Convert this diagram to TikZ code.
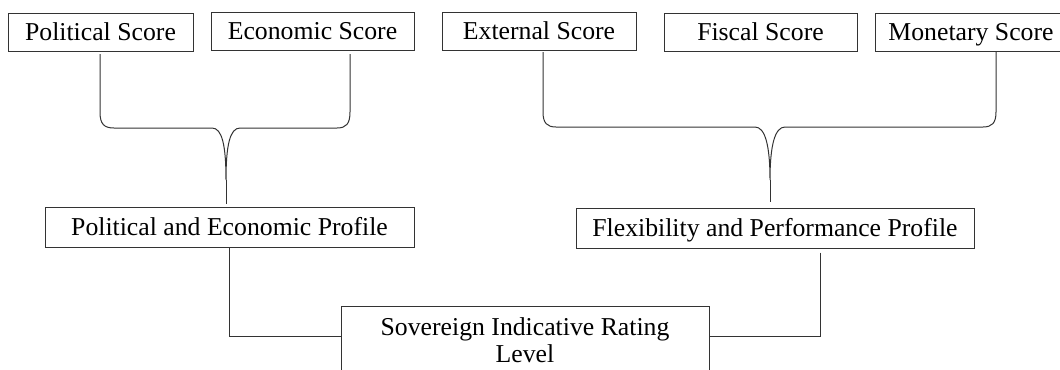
\documentclass[tikz,border=0pt]{standalone}
\usepackage{fontspec}
\setmainfont{Liberation Serif}
\begin{document}
\begin{tikzpicture}[x=0.75pt,y=-0.75pt,
  box/.style={draw=black!80, line width=0.75pt, inner sep=0pt, align=center,
    font=\fontsize{19.3}{20}\selectfont, text=black},
  one/.style={text height=12.8pt, text depth=0pt},
  conn/.style={draw=black!80, line width=0.75pt}]
\useasboundingbox (0,0) rectangle (1060,369);
% score boxes
\node[box, one, minimum width=138.75pt, minimum height=28.5pt] (ps) at (100.5,32) {Political Score};
\node[box, one, minimum width=152.25pt, minimum height=28.5pt] (es) at (312.5,31) {Economic Score};
\node[box, one, minimum width=145.5pt, minimum height=28.5pt] (xs) at (539,31) {External Score};
\node[box, one, minimum width=144.75pt, minimum height=28.5pt] (fs) at (760.5,32) {Fiscal Score};
\node[box, one, minimum width=144pt, minimum height=28.5pt] (ms) at (971,32) {Monetary Score};
% profiles
\node[box, one, minimum width=276.75pt, minimum height=30pt] (pe) at (229.5,227) {Political and Economic Profile};
\node[box, one, minimum width=298.5pt, minimum height=30pt] (fp) at (775,228) {Flexibility and Performance Profile};
% rating
\node[box, minimum width=276pt, minimum height=51pt] (sr) at (525,340) {Sovereign Indicative Rating\\Level};
% brace coordinates
\coordinate (la) at (100,54);
\coordinate (lb) at (350,54);
\coordinate (lt) at (226,180);
\coordinate (le) at (226,204);
\coordinate (ra) at (543,52);
\coordinate (rb) at (996,52);
\coordinate (rt) at (770,180);
\coordinate (re) at (770,202);
% left brace
\draw[conn] (la) -- (100,112) .. controls (100,124) and (104,128) .. (114,128) -- (212,128)
  .. controls (222,128) and (226,145) .. (lt)
  .. controls (226,145) and (230,128) .. (240,128) -- (337,128)
  .. controls (346,128) and (350,124) .. (350,112) -- (lb);
\draw[conn] (lt) -- (le);
% right brace
\draw[conn] (ra) -- (543,112) .. controls (543,123) and (547,127) .. (556,127) -- (755,127)
  .. controls (765,127) and (770,145) .. (rt)
  .. controls (770,145) and (775,127) .. (785,127) -- (983,127)
  .. controls (992,127) and (996,123) .. (996,112) -- (rb);
\draw[conn] (rt) -- (re);
% to rating
\draw[conn] (pe.south) |- ([yshift=3pt]sr.west);
\draw[conn] ([xshift=33.75pt,yshift=-3pt]fp.south) |- ([yshift=3pt]sr.east);
\end{tikzpicture}
\end{document}
